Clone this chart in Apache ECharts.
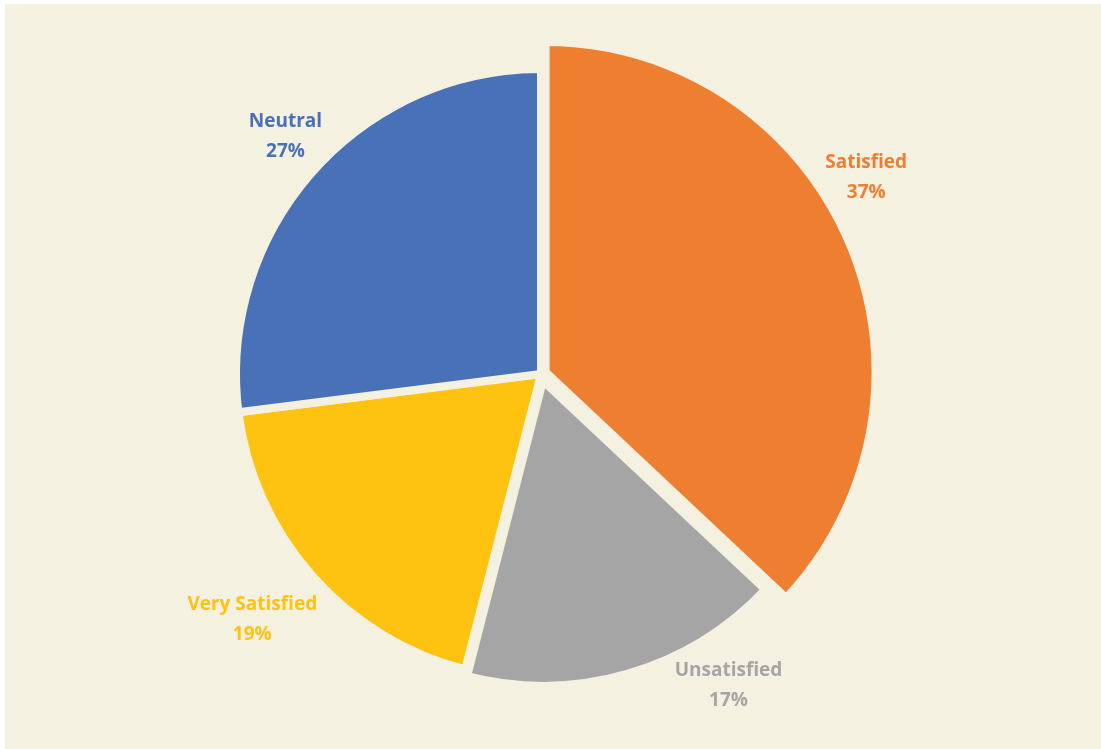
<!DOCTYPE html>
<html>
<head>
<meta charset="utf-8">
<title>Satisfaction survey</title>
<script src="https://cdn.jsdelivr.net/npm/echarts@6.0.0/dist/echarts.min.js"></script>
<style>
  html, body { margin: 0; padding: 0; background: #ffffff; }
  #chart { position: absolute; left: 5px; top: 4px; width: 1096px; height: 745px; }
</style>
</head>
<body>
<div id="chart"></div>
<script>
// Survey answers, clockwise from 12 o'clock
const categories = ['Satisfied', 'Unsatisfied', 'Very Satisfied', 'Neutral'];
const shares = [37, 17, 19, 27];

// Styling
const sliceColors = {
  'Satisfied': '#EE7F31',
  'Unsatisfied': '#A5A5A5',
  'Very Satisfied': '#FEC210',
  'Neutral': '#4871B7'
};
const cream = '#F5F1E1';
const center = [536, 370];
// per-slice radius and how far the slice is pulled out of the pie
const sliceGeometry = {
  'Satisfied': { radius: 330, explode: 5 },
  'Unsatisfied': { radius: 305, explode: 7 },
  'Very Satisfied': { radius: 305, explode: 0 },
  'Neutral': { radius: 305, explode: 0 }
};
// label placement: rotation from the slice bisector (deg) and distance from the centre
const labelPlacement = {
  'Satisfied': { shift: -8, dist: 381 },
  'Unsatisfied': { shift: -15, dist: 362 },
  'Very Satisfied': { shift: 1.2, dist: 378 },
  'Neutral': { shift: 1.7, dist: 350 }
};

const total = shares.reduce((a, b) => a + b, 0);
const midAngles = [];
let acc = 0;
shares.forEach(v => { midAngles.push((acc + v / 2) / total * 360); acc += v; });

const hidden = { color: 'rgba(0,0,0,0)', borderWidth: 0 };

function placeLabel(params) {
  const name = categories[params.dataIndex];
  const p = labelPlacement[name];
  const a = (midAngles[params.dataIndex] + p.shift) * Math.PI / 180;
  return {
    x: center[0] + p.dist * Math.sin(a),
    y: center[1] - p.dist * Math.cos(a) + 2,
    align: 'center',
    verticalAlign: 'middle'
  };
}

// one pie layer per slice: the whole data set is laid out every time so the
// angles match, and only the layer's own slice is painted
function sliceSeries(idx) {
  const name = categories[idx];
  const g = sliceGeometry[name];
  const a = midAngles[idx] * Math.PI / 180;
  return {
    type: 'pie',
    center: [center[0] + g.explode * Math.sin(a), center[1] - g.explode * Math.cos(a)],
    radius: g.radius,
    startAngle: 90,
    clockwise: true,
    silent: true,
    avoidLabelOverlap: false,
    itemStyle: { borderColor: cream, borderWidth: 8 },
    label: {
      show: true,
      formatter: '{b}\n{c}%',
      fontFamily: '"Open Sans", sans-serif',
      fontWeight: 'bold',
      fontSize: 19,
      lineHeight: 30,
      align: 'center'
    },
    labelLine: { show: false },
    labelLayout: placeLabel,
    emphasis: { disabled: true },
    data: categories.map((n, i) => ({
      name: n,
      value: shares[i],
      itemStyle: i === idx ? { color: sliceColors[n] } : hidden,
      label: i === idx ? { show: true, color: sliceColors[n] } : { show: false }
    }))
  };
}

const chart = echarts.init(document.getElementById('chart'), null, { renderer: 'canvas' });
chart.setOption({
  backgroundColor: cream,
  animation: false,
  series: categories.map((n, i) => sliceSeries(i))
});
</script>
</body>
</html>
